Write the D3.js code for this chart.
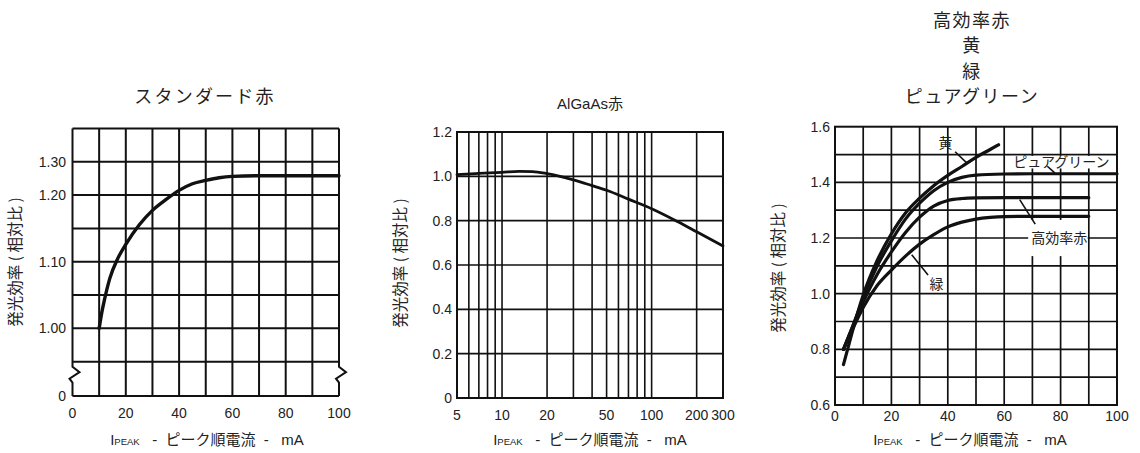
<!DOCTYPE html>
<html><head><meta charset="utf-8">
<script src="https://cdn.jsdelivr.net/npm/d3@7"></script>
<style>
html,body{margin:0;padding:0;background:#fff;}
svg{display:block;}
text{white-space:pre;}
</style></head><body>
<svg id="chart" width="1140" height="453"></svg>
<script>
// ---------- data ----------
// Standard red: luminous efficiency vs peak current (mA)
const stdCurrent    = [10, 11, 12, 14, 17, 20, 25, 30, 35, 40, 45, 50, 55, 60, 70, 80, 90, 100];
const stdEfficiency = [1.000, 1.024, 1.043, 1.075, 1.105, 1.126, 1.155, 1.177, 1.193, 1.207, 1.217, 1.222, 1.226, 1.228, 1.229, 1.229, 1.229, 1.229];
const stdYTickValues = [0, 1.00, 1.10, 1.20, 1.25];
const stdYTickLabels = ["0", "1.00", "1.10", "1.20", "1.30"];
const stdXTicks = [0, 20, 40, 60, 80, 100];

// AlGaAs red (log current axis)
const agCurrent    = [5, 7, 10, 13, 16, 20, 30, 40, 50, 70, 100, 150, 200, 300];
const agEfficiency = [1.008, 1.013, 1.018, 1.022, 1.021, 1.012, 0.984, 0.958, 0.937, 0.897, 0.854, 0.795, 0.750, 0.686];
const agXGrid  = [5, 6, 7, 8, 9, 10, 20, 30, 40, 50, 60, 70, 80, 90, 100, 200, 300];
const agXTicks = [5, 10, 20, 50, 100, 200, 300];
const agYTicks = [0, 0.2, 0.4, 0.6, 0.8, 1.0, 1.2];

// High-efficiency red / yellow / green / pure green
const yellowCurrent = [3, 5, 8, 10, 15, 20, 25, 30, 35, 40, 45, 50, 55, 58];
const yellowEff     = [0.745, 0.820, 0.930, 0.995, 1.120, 1.215, 1.290, 1.343, 1.388, 1.425, 1.457, 1.490, 1.518, 1.535];
const pureCurrent   = [3, 5, 8, 10, 15, 20, 25, 30, 35, 40, 45, 50, 60, 70, 100];
const pureEff       = [0.800, 0.850, 0.930, 0.985, 1.100, 1.190, 1.268, 1.325, 1.370, 1.400, 1.418, 1.426, 1.430, 1.431, 1.431];
const redCurrent    = [3, 5, 8, 10, 15, 20, 25, 30, 35, 40, 45, 50, 60, 90];
const redEff        = [0.800, 0.850, 0.925, 0.970, 1.070, 1.150, 1.220, 1.275, 1.315, 1.335, 1.342, 1.344, 1.345, 1.345];
const greenCurrent  = [3, 5, 8, 10, 15, 20, 25, 30, 35, 40, 45, 50, 55, 60, 70, 90];
const greenEff      = [0.800, 0.845, 0.910, 0.950, 1.030, 1.085, 1.135, 1.178, 1.212, 1.240, 1.257, 1.268, 1.274, 1.277, 1.278, 1.278];
const hiXTicks = [0, 20, 40, 60, 80, 100];
const hiYTicks = [0.6, 0.8, 1.0, 1.2, 1.4, 1.6];

const titleLines = ["高効率赤", "黄", "緑", "ピュアグリーン"];
const yAxisTitle = "発光効率 ( 相対比 )";

// ---------- drawing ----------
const svg = d3.select("#chart");
const NUM = "'Liberation Sans', Arial, sans-serif";
const JP  = "'Noto Sans CJK JP', 'Noto Sans', sans-serif";
const INK = "#111";

function gridLines(g, xs, ys, x, y, width) {
  const [x0, x1] = x.range();
  const [y0, y1] = y.range();
  g.selectAll(null).data(xs).join("line")
    .attr("x1", d => x(d)).attr("x2", d => x(d)).attr("y1", y0).attr("y2", y1)
    .attr("stroke", INK).attr("stroke-width", width);
  g.selectAll(null).data(ys).join("line")
    .attr("y1", d => y(d)).attr("y2", d => y(d)).attr("x1", x0).attr("x2", x1)
    .attr("stroke", INK).attr("stroke-width", width);
}

function xTickLabels(g, ticks, x, yPos, fmt) {
  g.selectAll(null).data(ticks).join("text")
    .attr("x", d => x(d)).attr("y", yPos)
    .attr("text-anchor", "middle").attr("font-family", NUM).attr("font-size", 14)
    .attr("fill", "#222").text(fmt);
}
function yTickLabels(g, ticks, labels, y, xPos) {
  g.selectAll(null).data(ticks).join("text")
    .attr("x", xPos).attr("y", d => y(d)).attr("dy", "0.36em")
    .attr("text-anchor", "end").attr("font-family", NUM).attr("font-size", 14)
    .attr("fill", "#222").text((d, i) => labels[i]);
}
function yTitle(cx, cy) {
  svg.append("text")
    .attr("transform", `translate(${cx},${cy}) rotate(-90)`)
    .attr("text-anchor", "middle").attr("dy", "0.36em")
    .attr("font-family", JP).attr("font-size", 15.5).attr("fill", "#222")
    .text(yAxisTitle);
}
function xTitle(cx, by) {
  const t = svg.append("text").attr("x", cx).attr("y", by)
    .attr("text-anchor", "middle").attr("font-family", JP).attr("font-size", 15).attr("fill", "#222");
  t.append("tspan").attr("font-family", NUM).text("I");
  t.append("tspan").attr("font-family", NUM).attr("font-size", 9.5).text("PEAK");
  t.append("tspan").attr("font-family", NUM).text("   -  ");
  t.append("tspan").text("ピーク順電流");
  t.append("tspan").attr("font-family", NUM).text("  -   mA");
}
function curve(g, xs, ys, x, y, w) {
  const line = d3.line().x(d => x(d[0])).y(d => y(d[1])).curve(d3.curveMonotoneX);
  g.append("path").datum(d3.zip(xs, ys)).attr("d", line)
    .attr("fill", "none").attr("stroke", INK).attr("stroke-width", w)
    .attr("stroke-linecap", "round").attr("stroke-linejoin", "round");
}

// ===== Panel 1: standard red =====
{
  const g = svg.append("g");
  const x = d3.scaleLinear().domain([0, 100]).range([72.5, 339]);
  // broken axis: 0 .. 0.95 squeezed into the bottom band
  const y = d3.scaleLinear().domain([0, 0.95, 1.30]).range([396, 361.7, 128.4]);
  const yTop = 1.30, yBreak = 0.95;
  const xs = d3.range(10, 100, 10);
  const ys = d3.range(0, 7).map(i => yBreak + i * 0.05);
  g.selectAll(null).data(xs).join("line")
    .attr("x1", d => x(d)).attr("x2", d => x(d)).attr("y1", y(0)).attr("y2", y(yTop))
    .attr("stroke", INK).attr("stroke-width", 2);
  g.selectAll(null).data(ys.concat([0, yTop])).join("line")
    .attr("y1", d => y(d)).attr("y2", d => y(d)).attr("x1", x(0)).attr("x2", x(100))
    .attr("stroke", INK).attr("stroke-width", 2);
  // side borders with break marks
  const zy = y(yBreak) + 5;
  [x(0), x(100)].forEach(bx => {
    const p = d3.path();
    p.moveTo(bx, y(yTop)); p.lineTo(bx, zy);
    p.lineTo(bx + 7, zy + 5.5); p.lineTo(bx - 3, zy + 12); p.lineTo(bx, zy + 16);
    p.lineTo(bx, y(0));
    g.append("path").attr("d", p.toString()).attr("fill", "none")
      .attr("stroke", INK).attr("stroke-width", 2).attr("stroke-linejoin", "miter");
  });
  curve(g, stdCurrent, stdEfficiency, x, y, 3.4);
  xTickLabels(g, stdXTicks, x, 418, d => d);
  yTickLabels(g, stdYTickValues, stdYTickLabels, y, 66);
  yTitle(15, 262);
  xTitle(207, 445);
  svg.append("text").attr("x", 205).attr("y", 103).attr("text-anchor", "middle")
    .attr("font-family", JP).attr("font-size", 18).attr("letter-spacing", 2.2)
    .attr("fill", "#222").text("スタンダード赤");
}

// ===== Panel 2: AlGaAs red =====
{
  const g = svg.append("g");
  const x = d3.scaleLog().domain([5, 300]).range([457, 723]);
  const y = d3.scaleLinear().domain([0, 1.2]).range([398, 132]);
  g.selectAll(null).data(agXGrid).join("line")
    .attr("x1", d => x(d)).attr("x2", d => x(d)).attr("y1", y(0)).attr("y2", y(1.2))
    .attr("stroke", INK).attr("stroke-width", 1.6);
  g.selectAll(null).data(agYTicks).join("line")
    .attr("y1", d => y(d)).attr("y2", d => y(d)).attr("x1", x(5)).attr("x2", x(300))
    .attr("stroke", INK).attr("stroke-width", 1.6);
  g.append("rect").attr("x", x(5)).attr("y", y(1.2)).attr("width", x(300) - x(5))
    .attr("height", y(0) - y(1.2)).attr("fill", "none").attr("stroke", INK).attr("stroke-width", 2);
  curve(g, agCurrent, agEfficiency, x, y, 2.8);
  xTickLabels(g, agXTicks, x, 420, d => d);
  yTickLabels(g, agYTicks, agYTicks.map(d => d === 0 ? "0" : d.toFixed(1)), y, 452);
  yTitle(400, 263);
  xTitle(590, 445);
  const t = svg.append("text").attr("x", 590).attr("y", 109).attr("text-anchor", "middle")
    .attr("font-size", 15).attr("fill", "#222");
  t.append("tspan").attr("font-family", NUM).text("AlGaAs");
  t.append("tspan").attr("font-family", JP).text("赤");
}

// ===== Panel 3: high-efficiency red / yellow / green =====
{
  const g = svg.append("g");
  const x = d3.scaleLinear().domain([0, 100]).range([835, 1117]);
  const y = d3.scaleLinear().domain([0.6, 1.6]).range([405, 126.7]);
  const xs = d3.range(10, 100, 10);
  const ys = d3.range(1, 10).map(i => 0.6 + i * 0.1);
  gridLines(g, xs, ys, x, y, 1.7);
  g.append("rect").attr("x", x(0)).attr("y", y(1.6)).attr("width", x(100) - x(0))
    .attr("height", y(0.6) - y(1.6)).attr("fill", "none").attr("stroke", INK).attr("stroke-width", 2);

  // label plates that mask the grid
  g.append("rect").attr("x", x(62.4)).attr("y", y(1.495)).attr("width", x(98.9) - x(62.4))
    .attr("height", y(1.45) - y(1.495)).attr("fill", "#fff");
  g.append("rect").attr("x", x(68.5)).attr("y", y(1.265)).attr("width", x(89.6) - x(68.5))
    .attr("height", y(1.135) - y(1.265)).attr("fill", "#fff");

  curve(g, yellowCurrent, yellowEff, x, y, 3.2);
  curve(g, pureCurrent, pureEff, x, y, 3.2);
  curve(g, redCurrent, redEff, x, y, 3.2);
  curve(g, greenCurrent, greenEff, x, y, 3.2);

  // callouts: [text, text x, text y, leader from, leader to]
  const callouts = [
    ["黄", 39.2, 1.540, [42.6, 1.510], [46.7, 1.470]],
    ["ピュアグリーン", 80.3, 1.474, [75.3, 1.458], [78.0, 1.433]],
    ["高効率赤", 79.5, 1.200, [65.5, 1.338], [71.0, 1.250]],
    ["緑", 36.0, 1.035, [27.2, 1.140], [33.0, 1.067]]
  ];
  callouts.forEach(([t, tx, ty, a, b]) => {
    g.append("line").attr("x1", x(a[0])).attr("y1", y(a[1])).attr("x2", x(b[0])).attr("y2", y(b[1]))
      .attr("stroke", INK).attr("stroke-width", 1.6);
    g.append("text").attr("x", x(tx)).attr("y", y(ty)).attr("dy", "0.36em")
      .attr("text-anchor", "middle").attr("font-family", JP).attr("font-size", 14)
      .attr("fill", "#222").text(t);
  });

  xTickLabels(g, hiXTicks, x, 421, d => d);
  yTickLabels(g, hiYTicks, hiYTicks.map(d => d.toFixed(1)), y, 830);
  yTitle(778, 268);
  xTitle(970, 445);
  const tt = svg.append("text").attr("text-anchor", "middle")
    .attr("font-family", JP).attr("font-size", 18).attr("letter-spacing", 1.5).attr("fill", "#222");
  titleLines.forEach((s, i) => {
    tt.append("tspan").attr("x", 972).attr("y", 27 + i * 25.3).text(s);
  });
}
</script>
</body></html>
